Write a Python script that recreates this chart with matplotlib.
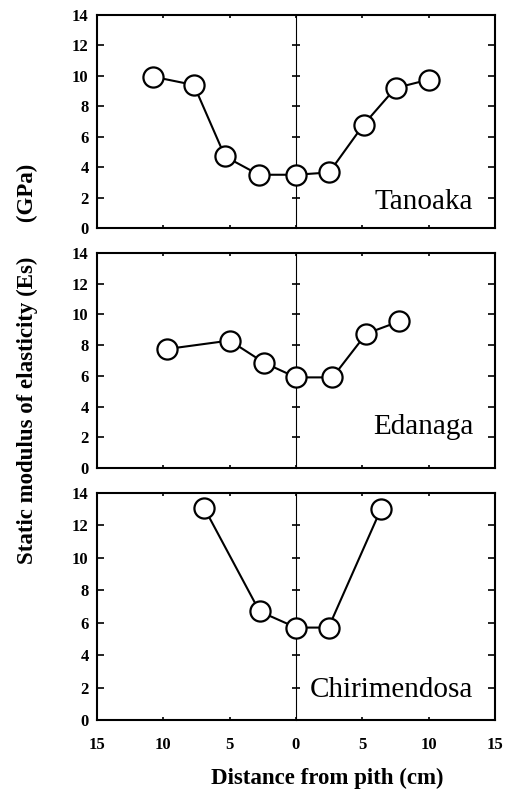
import matplotlib.pyplot as plt
from matplotlib.ticker import FuncFormatter, MultipleLocator

# distancia ao centro (cm), negativo = lado esquerdo
tanoaka_x = [-10.8, -7.7, -5.35, -2.8, 0.0, 2.5, 5.1, 7.5, 10.0]
tanoaka_y = [9.95, 9.4, 4.7, 3.5, 3.5, 3.65, 6.8, 9.2, 9.75]

edanaga_x = [-9.7, -5.0, -2.4, 0.0, 2.75, 5.3, 7.8]
edanaga_y = [7.75, 8.3, 6.85, 5.9, 5.9, 8.75, 9.55]

chiri_x = [-6.9, -2.75, 0.0, 2.45, 6.4]
chiri_y = [13.05, 6.7, 5.7, 5.7, 13.0]

species = ['Tanoaka', 'Edanaga', 'Chirimendosa']
xs = [tanoaka_x, edanaga_x, chiri_x]
ys = [tanoaka_y, edanaga_y, chiri_y]

plt.rcParams['font.family'] = ['Liberation Serif', 'DejaVu Serif']

fig = plt.figure(figsize=(5.26, 7.9), dpi=100)

# posicoes dos paineis (fracao da figura)
left, width = 97 / 526, 398 / 526
boxes = [(15, 228), (253, 468), (493, 720)]
name_y = [0.09, 0.16, 0.10]

for i, (top, bot) in enumerate(boxes):
    ax = fig.add_axes([left, 1 - bot / 790, width, (bot - top) / 790])
    ax.plot(xs[i], ys[i], '-o', color='black', lw=1.5, ms=14.5,
            mfc='white', mec='black', mew=1.6, zorder=3)
    ax.set_xlim(-15, 15)
    ax.set_ylim(0, 14)
    ax.yaxis.set_major_locator(MultipleLocator(2))
    ax.xaxis.set_major_locator(MultipleLocator(5))
    for s in ax.spines.values():
        s.set_linewidth(1.5)
    ax.tick_params(axis='y', direction='in', length=5, width=1.2,
                   right=True, pad=6, labelsize=12)
    ax.tick_params(axis='x', direction='in', length=2.5, width=1.2,
                   top=True, pad=12, labelsize=12)
    for lab in ax.get_yticklabels():
        lab.set_fontweight('bold')

    # eixo central (medula)
    mid = ax.secondary_yaxis(0.5)
    mid.spines['left'].set_linewidth(1.3)
    mid.yaxis.set_major_locator(MultipleLocator(2))
    mid.tick_params(direction='inout', length=6, width=1.2,
                    labelleft=False, labelright=False)

    if i < 2:
        ax.tick_params(axis='x', labelbottom=False)
    else:
        ax.xaxis.set_major_formatter(FuncFormatter(lambda v, p: f'{abs(v):.0f}'))
        for lab in ax.get_xticklabels():
            lab.set_fontweight('bold')

    ax.text(0.945, name_y[i], species[i], transform=ax.transAxes,
            ha='right', va='baseline', fontsize=21)

fig.text(27 / 526, 1 - 364 / 790,
         'Static modulus of elasticity (Es)      (GPa)',
         rotation=90, ha='center', va='center', fontsize=16.5, fontweight='bold')
fig.text(327 / 526, 1 - 778 / 790, 'Distance from pith (cm)',
         ha='center', va='center', fontsize=16.5, fontweight='bold')

fig.savefig('out.png', dpi=100)
